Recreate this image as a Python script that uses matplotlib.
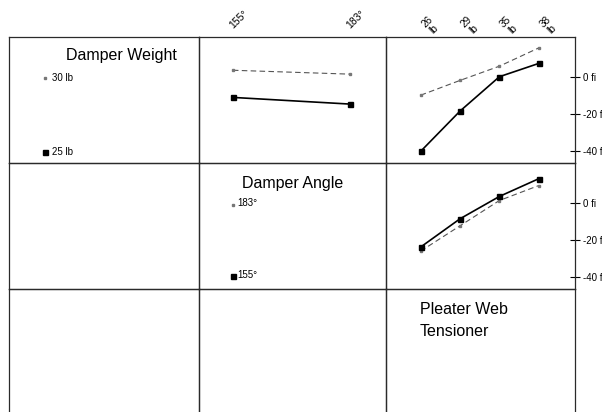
import matplotlib
matplotlib.use("Agg")
import matplotlib.pyplot as plt

plt.rcParams['font.family'] = ['Liberation Sans', 'DejaVu Sans']

# ---- data ----
angle_labels = ["155°", "183°"]
tension_labels = ["26\nlb", "29\nlb", "35\nlb", "38\nlb"]
weight_levels = ["30 lb", "25 lb"]
angle_levels = ["183°", "155°"]

# Damper Weight x Damper Angle
w25_by_angle = [-10.8, -14.4]
w30_by_angle = [3.9, 1.8]
# Damper Weight x Pleater Web Tensioner
w25_by_tension = [-40.0, -18.2, 0.4, 7.6]
w30_by_tension = [-9.6, -1.6, 6.1, 16.0]
# Damper Angle x Pleater Web Tensioner
a155_by_tension = [-23.6, -8.3, 3.8, 13.4]
a183_by_tension = [-25.8, -12.1, 1.6, 9.7]

y_ticks = [0, -20, -40]
y_tick_labels = ["0 fi", "-20 fi", "-40 fi"]

# ---- layout ----
W, H = 602, 412
fig = plt.figure(figsize=(W / 100, H / 100), dpi=100)
col_x = [9, 199, 386, 575]
row_y = [37, 163, 289, 415]
YLIM = (-46.3, 21.9)
EDGE = '#2a2a2a'

axes = {}
for r in range(3):
    for c in range(3):
        x0, x1 = col_x[c], col_x[c + 1]
        y0, y1 = row_y[r], row_y[r + 1]
        ax = fig.add_axes([x0 / W, 1 - y1 / H, (x1 - x0) / W, (y1 - y0) / H])
        ax.set_xticks([])
        ax.set_yticks([])
        ax.set_ylim(*YLIM)
        for s in ax.spines.values():
            s.set_color(EDGE)
            s.set_linewidth(0.9)
        ax.patch.set_alpha(0)
        axes[(r, c)] = ax

solid_kw = dict(color='black', lw=1.2, marker='s', ms=3.6, mfc='black', mec='black')
dash_kw = dict(color='#555555', lw=0.8, ls=(0, (5, 3)), marker='s', ms=2.0,
               mfc='#777777', mec='#777777')
dash_mark = {k: v for k, v in dash_kw.items() if k != 'ls'}

# cell (0,1)
ax = axes[(0, 1)]
xa = list(range(len(angle_labels)))
ax.plot(xa, w30_by_angle, **dash_kw)
ax.plot(xa, w25_by_angle, **solid_kw)
ax.set_xlim(-0.29, 1.31)

# cell (0,2)
ax = axes[(0, 2)]
xt = list(range(len(tension_labels)))
ax.plot(xt, w30_by_tension, **dash_kw)
ax.plot(xt, w25_by_tension, **solid_kw)
ax.set_xlim(-0.88, 3.92)

# cell (1,2)
ax = axes[(1, 2)]
ax.plot(xt, a183_by_tension, **dash_kw)
ax.plot(xt, a155_by_tension, **solid_kw)
ax.set_xlim(-0.88, 3.92)

# right y ticks
for r in (0, 1):
    ax = axes[(r, 2)]
    ax.yaxis.tick_right()
    ax.set_yticks(y_ticks)
    ax.set_yticklabels(y_tick_labels)
    ax.tick_params(axis='y', direction='inout', length=7, width=0.8,
                   colors='black', labelsize=7, pad=2)

# top tick labels (rotated)
ax = axes[(0, 1)]
for i, lab in enumerate(angle_labels):
    ax.annotate(lab, xy=(i, 1), xycoords=('data', 'axes fraction'),
                xytext=(4.5, 13.0), textcoords='offset points',
                rotation=45, ha='center', va='center', fontsize=7.5)
ax = axes[(0, 2)]
for i, lab in enumerate(tension_labels):
    ax.annotate(lab, xy=(i, 1), xycoords=('data', 'axes fraction'),
                xytext=(7.2, 8.0), textcoords='offset points',
                rotation=45, ha='center', va='center', fontsize=7.2,
                multialignment='center', linespacing=1.05)

# diagonal labels
ax = axes[(0, 0)]
ax.text(0.59, 0.85, "Damper Weight", transform=ax.transAxes, ha='center',
        va='center', fontsize=11.5)
ax.plot([0.19], [0.675], transform=ax.transAxes, **dash_mark)
ax.text(0.225, 0.675, weight_levels[0], transform=ax.transAxes, va='center', fontsize=7)
ax.plot([0.19], [0.088], transform=ax.transAxes, **solid_kw)
ax.text(0.225, 0.088, weight_levels[1], transform=ax.transAxes, va='center', fontsize=7)

ax = axes[(1, 1)]
ax.text(0.503, 0.84, "Damper Angle", transform=ax.transAxes, ha='center',
        va='center', fontsize=11.5)
ax.plot([0.18], [0.67], transform=ax.transAxes, **dash_mark)
ax.text(0.205, 0.68, angle_levels[0], transform=ax.transAxes, va='center', fontsize=7)
ax.plot([0.18], [0.10], transform=ax.transAxes, **solid_kw)
ax.text(0.205, 0.11, angle_levels[1], transform=ax.transAxes, va='center', fontsize=7)

ax = axes[(2, 2)]
ax.text(0.18, 0.895, "Pleater Web\nTensioner", transform=ax.transAxes, ha='left',
        va='top', fontsize=11.5, linespacing=1.55)

fig.savefig("out.png", dpi=100)
